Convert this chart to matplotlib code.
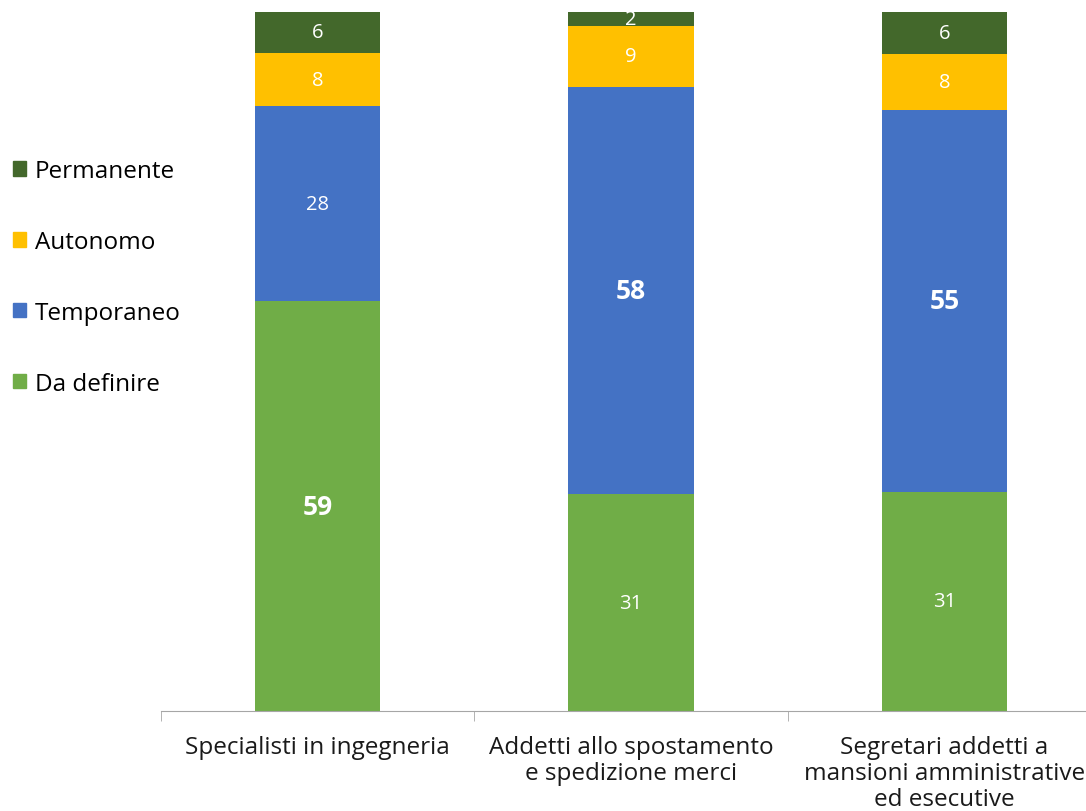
import matplotlib
matplotlib.use("Agg")
import matplotlib.pyplot as plt
import matplotlib.patches as mpatches
import numpy as np

plt.rcParams["font.family"] = ["Open Sans", "DejaVu Sans"]

categories = ["Specialisti in ingegneria",
              "Addetti allo spostamento\ne spedizione merci",
              "Segretari addetti a\nmansioni amministrative\ned esecutive"]
series_names = ["Da definire", "Temporaneo", "Autonomo", "Permanente"]
da_definire = [58.6, 31.0, 31.4]
temporaneo = [27.9, 58.3, 54.6]
autonomo = [7.6, 8.7, 8.0]
permanente = [6.0, 2.0, 6.0]
colors = ["#70AD47", "#4472C4", "#FFC000", "#43682B"]

series = np.array([da_definire, temporaneo, autonomo, permanente])
bar_max = series.max(axis=0)

fig = plt.figure(figsize=(10.86, 8.12), dpi=100)
ax = fig.add_axes([161 / 1086, 100 / 812, 940 / 1086, 699 / 812])

x = np.arange(len(categories))
bottom = np.zeros(len(categories))
for vals, col in zip(series, colors):
    ax.bar(x, vals, width=0.4, bottom=bottom, color=col, linewidth=0)
    for xi, v, b, m in zip(x, vals, bottom, bar_max):
        big = v == m
        ax.text(xi, b + v / 2, f"{v:.0f}", ha="center", va="center",
                color="white", fontsize=19 if big else 14.5,
                fontweight="bold" if big else "normal")
    bottom += vals

ax.set_xlim(-0.5, len(categories) - 0.5)
ax.set_ylim(0, 100)
ax.set_yticks([])
for side in ["left", "right", "top"]:
    ax.spines[side].set_visible(False)
ax.spines["bottom"].set_color("#A6A6A6")
ax.set_xticks(x)
ax.set_xticklabels(categories, fontsize=17.5, color="#1a1a1a", linespacing=1.12)
ax.tick_params(axis="x", length=0, pad=17)
ax.set_xticks(np.arange(len(categories) + 1) - 0.5, minor=True)
ax.tick_params(axis="x", which="minor", length=7, color="#A6A6A6")

handles = [mpatches.Patch(color=c, label=n) for n, c in zip(series_names, colors)]
fig.legend(handles=handles[::-1], loc="upper left", bbox_to_anchor=(0.003, 0.815),
           frameon=False, fontsize=17.5, handlelength=0.55, handleheight=0.55,
           handletextpad=0.35, labelspacing=1.93, borderaxespad=0)

fig.savefig("out.png", dpi=100)
